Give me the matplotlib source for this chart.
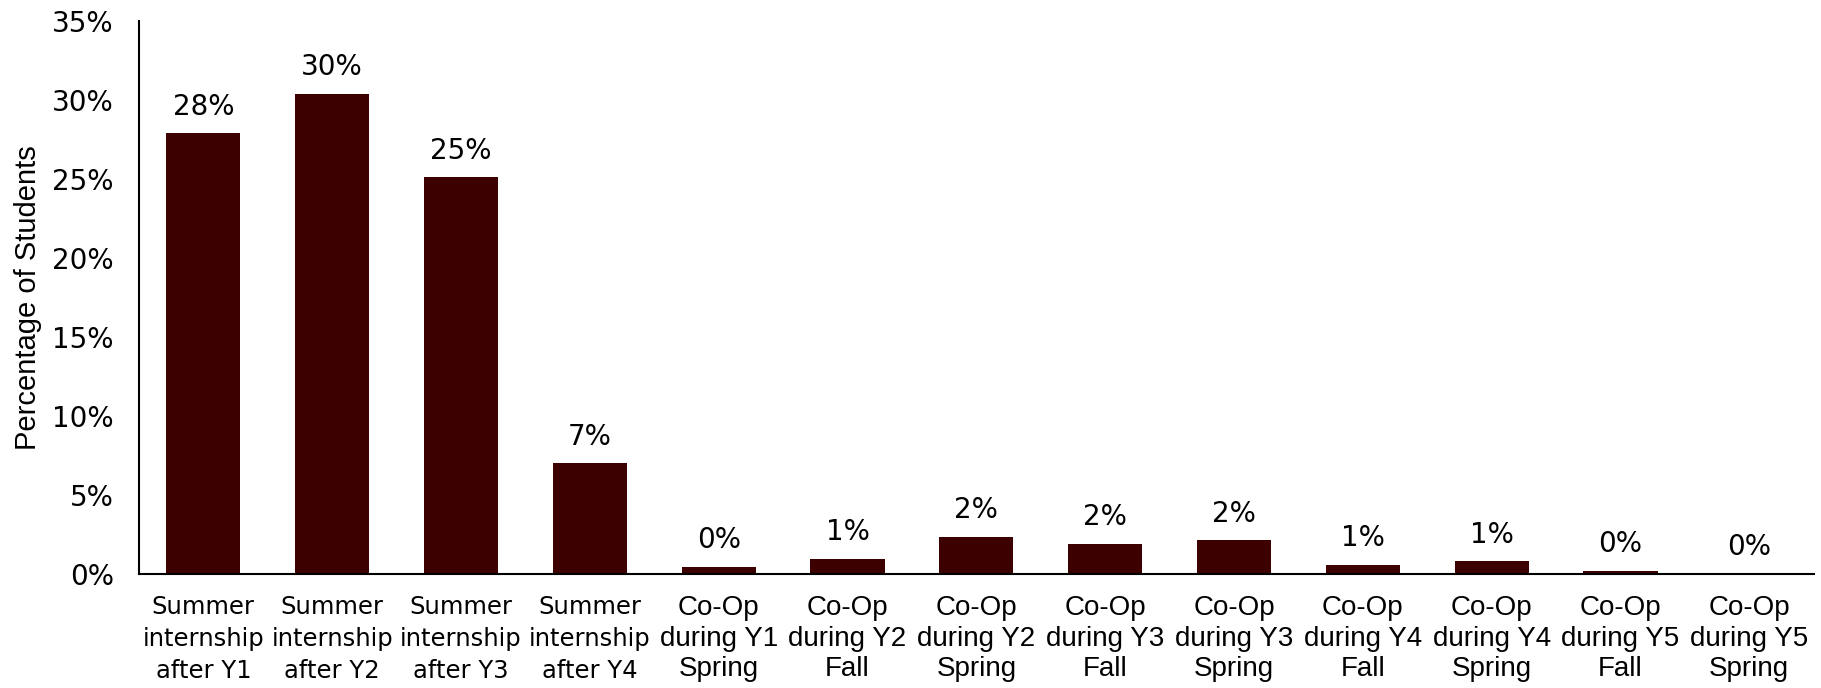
import matplotlib
matplotlib.use("Agg")
import matplotlib.pyplot as plt

categories = [
    "Summer\ninternship\nafter Y1", "Summer\ninternship\nafter Y2",
    "Summer\ninternship\nafter Y3", "Summer\ninternship\nafter Y4",
    "Co-Op\nduring Y1\nSpring", "Co-Op\nduring Y2\nFall", "Co-Op\nduring Y2\nSpring",
    "Co-Op\nduring Y3\nFall", "Co-Op\nduring Y3\nSpring", "Co-Op\nduring Y4\nFall",
    "Co-Op\nduring Y4\nSpring", "Co-Op\nduring Y5\nFall", "Co-Op\nduring Y5\nSpring",
]
values = [27.9, 30.4, 25.1, 7.0, 0.45, 0.95, 2.35, 1.9, 2.15, 0.6, 0.8, 0.22, 0.0]
labels = ["28%", "30%", "25%", "7%", "0%", "1%", "2%", "2%", "2%", "1%", "1%", "0%", "0%"]
yticks = [0, 5, 10, 15, 20, 25, 30, 35]
ytick_labels = ["0%", "5%", "10%", "15%", "20%", "25%", "30%", "35%"]

narrow = "Liberation Sans"
wide = "DejaVu Sans"

color = "#3d0000"
fig = plt.figure(figsize=(18.21, 6.88), dpi=100)
ax = fig.add_axes([0.0763, 0.1657, 0.9197, 0.8038])
x = list(range(len(categories)))
ax.bar(x, values, width=0.575, color=color)
ax.set_xlim(-0.5, len(categories) - 0.5)
ax.set_ylim(0, 35)
ax.set_yticks(yticks)
ax.set_yticklabels(ytick_labels, fontsize=20, family=wide)
ax.set_xticks(x)
ax.set_xticklabels(categories)
for i, t in enumerate(ax.get_xticklabels()):
    if categories[i].startswith("Summer"):
        t.set_fontfamily(wide)
        t.set_fontsize(17.5)
        t.set_linespacing(1.42)
    else:
        t.set_fontfamily(narrow)
        t.set_fontsize(20)
        t.set_linespacing(1.24)
ax.tick_params(axis="x", length=0, pad=15)
ax.tick_params(axis="y", length=0, pad=18)
for s in ["top", "right"]:
    ax.spines[s].set_visible(False)
ax.spines["left"].set_linewidth(1.5)
ax.spines["bottom"].set_linewidth(1.5)
for i, (v, l) in enumerate(zip(values, labels)):
    ax.annotate(l, (i, v), xytext=(0, 9), textcoords="offset points",
                ha="center", va="bottom", fontsize=20, family=wide)
ax.set_ylabel("Percentage of Students", fontsize=21, family=narrow, labelpad=7)
fig.savefig("out.png", dpi=100)
